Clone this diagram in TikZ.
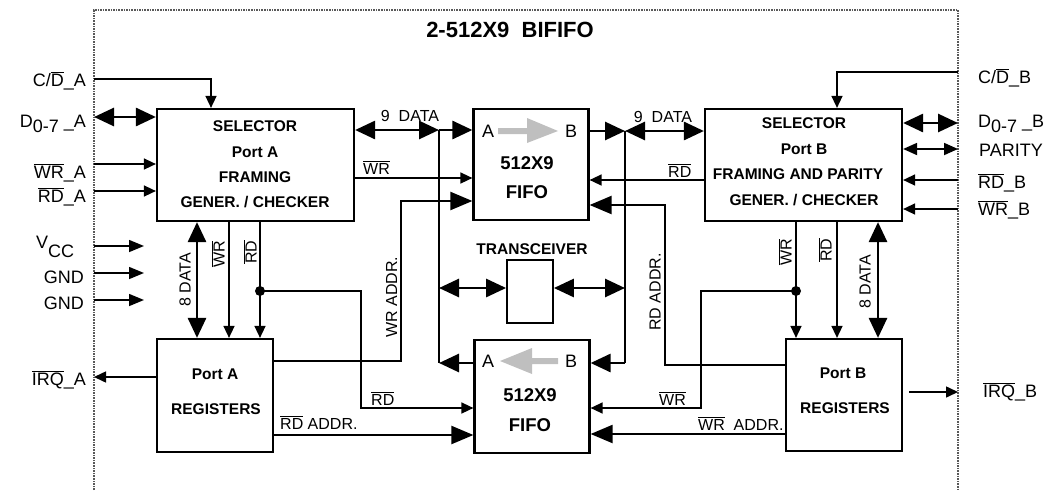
\documentclass[tikz,border=0pt]{standalone}
\usepackage{fontspec}
\setmainfont{Liberation Sans}
\usetikzlibrary{arrows.meta,calc}
\newcommand\ovl[1]{\ensuremath{\overline{\mbox{#1}}}}
\begin{document}
\begin{tikzpicture}[
 x=1pt, y=-1pt,
 box/.style={draw, line width=2.2pt, inner sep=0pt},
 bt/.style={font=\fontsize{15.5}{17}\selectfont\bfseries, inner sep=0pt},
 big/.style={font=\fontsize{18.5}{20}\selectfont\bfseries, inner sep=0pt},
 lbl/.style={font=\fontsize{16}{18}\selectfont, inner sep=0pt},
 ext/.style={font=\fontsize{18}{20}\selectfont, inner sep=0pt},
 sig/.style={line width=1.5pt, -{Triangle[length=12pt,width=11pt]}},
 pw/.style={line width=1.5pt, -{Triangle[length=15pt,width=12pt]}},
 par/.style={line width=1.8pt, {Triangle[length=14pt,width=12pt]}-{Triangle[length=14pt,width=12pt]}},
 bus/.style={line width=2.8pt, -{Triangle[length=20pt,width=18pt]}},
 dbus/.style={line width=2.8pt, {Triangle[length=20pt,width=18pt]}-{Triangle[length=20pt,width=18pt]}},
 buswire/.style={line width=2.4pt},
 addr/.style={line width=2.2pt, -{Triangle[length=22pt,width=18pt]}},
]
\useasboundingbox (0,0) rectangle (1062,490);
% border
\draw[black!65, line width=1.6pt, densely dotted] (94,490) -- (94,10) -- (958,10) -- (958,490);
\node[font=\fontsize{22}{24}\selectfont\bfseries, inner sep=0pt] (title) at (510,30) {2-512X9\ \ BIFIFO};

% boxes
\node[box, minimum width=197pt, minimum height=112pt] (selA) at (255.5,165) {};
\node[box, minimum width=116pt, minimum height=113pt] (regA) at (215,395.5) {};
\node[box, minimum width=115pt, minimum height=111pt] (fifoT) at (531,164.5) {};
\node[box, minimum width=115pt, minimum height=113pt] (fifoB) at (532,396.5) {};
\node[box, line width=1.8pt, minimum width=46pt, minimum height=63pt] (trx) at (530,291.5) {};
\node[box, minimum width=197pt, minimum height=112pt] (selB) at (803.5,165) {};
\node[box, minimum width=116pt, minimum height=112pt] (regB) at (844,395) {};

% box texts
\node[bt] (sa1) at (255,126) {SELECTOR};
\node[bt] (sa2) at (255,152) {Port A};
\node[bt] (sa3) at (255,177) {FRAMING};
\node[bt] (sa4) at (255,202) {GENER. / CHECKER};
\node[bt] (sb1) at (804,123) {SELECTOR};
\node[bt] (sb2) at (804,149) {Port B};
\node[bt] (sb3) at (798,174) {FRAMING AND PARITY};
\node[bt] (sb4) at (804,200) {GENER. / CHECKER};
\node[bt] (ra1) at (215,374) {Port A};
\node[bt] (ra2) at (216,409) {REGISTERS};
\node[bt] (rb1) at (843,373) {Port B};
\node[bt] (rb2) at (845,408) {REGISTERS};
\node[big] (ft1) at (527,163) {512X9};
\node[big] (ft2) at (527,192) {FIFO};
\node[big] (fb1) at (530,395) {512X9};
\node[big] (fb2) at (530,425) {FIFO};
\node[ext] (ftA) at (488,131) {A};
\node[ext] (ftB) at (571,131) {B};
\node[ext] (fbA) at (488,361) {A};
\node[ext] (fbB) at (571,361) {B};
\node[bt] (trxl) at (532,249) {TRANSCEIVER};
% gray direction arrows
\fill[gray!50] (498,128) -- (527,128) -- (527,118) -- (558,131) -- (527,143) -- (527,134) -- (498,134) -- cycle;
\fill[gray!50] (558,358) -- (532,358) -- (532,348) -- (500,361) -- (532,374) -- (532,364) -- (558,364) -- cycle;

% left external labels
\node[ext, anchor=base east] (lCDA) at (86,86) {C/\ovl{D}\_A};
\node[ext, anchor=base east] (lDA) at (86,127) {D\raisebox{-5pt}{0-7} \_A};
\node[ext, anchor=base east] (lWRA) at (86,178) {\ovl{WR}\_A};
\node[ext, anchor=base east] (lRDA) at (86,202) {\ovl{RD}\_A};
\node[ext, anchor=base west] (lVCC) at (36,248) {V\raisebox{-9pt}{CC}};
\node[ext, anchor=base east] (lGND1) at (84,283) {GND};
\node[ext, anchor=base east] (lGND2) at (84,309) {GND};
\node[ext, anchor=base east] (lIRQA) at (86,385) {\ovl{IRQ}\_A};
% right external labels
\node[ext, anchor=base west] (lCDB) at (978,83) {C/\ovl{D}\_B};
\node[ext, anchor=base west] (lDB) at (978,127) {D\raisebox{-5pt}{0-7} \_B};
\node[ext, anchor=base west] (lPAR) at (979,156) {PARITY};
\node[ext, anchor=base west] (lRDB) at (978,188) {\ovl{RD}\_B};
\node[ext, anchor=base west] (lWRB) at (978,215) {\ovl{WR}\_B};
\node[ext, anchor=base west] (lIRQB) at (983,397) {\ovl{IRQ}\_B};

% left external signals
\coordinate (pCDA) at (94,79);
\coordinate (xCDA) at (211,0);
\draw[sig] (pCDA) -| (xCDA |- selA.north);
\coordinate (pDA) at (94,117);
\draw[dbus] (pDA) -- (pDA -| selA.west);
\coordinate (pWRA) at (94,164);
\draw[sig] (pWRA) -- (pWRA -| selA.west);
\coordinate (pRDA) at (94,191);
\draw[sig] (pRDA) -- (pRDA -| selA.west);
\coordinate (vccS) at (94,246); \coordinate (vccE) at (144,246);
\draw[pw] (vccS) -- (vccE);
\coordinate (g1S) at (94,273); \coordinate (g1E) at (144,273);
\draw[pw] (g1S) -- (g1E);
\coordinate (g2S) at (94,300); \coordinate (g2E) at (144,300);
\draw[pw] (g2S) -- (g2E);
\coordinate (pIRQA) at (94,377);
\draw[sig] (pIRQA -| regA.west) -- (pIRQA);

% selector A <-> registers A
\coordinate (x8A) at (197,0);
\draw[dbus] (x8A |- selA.south) -- (x8A |- regA.north);
\coordinate (xWRA) at (229,0);
\draw[sig] (xWRA |- selA.south) -- (xWRA |- regA.north);
\coordinate (xRDA) at (260,0);
\draw[sig] (xRDA |- selA.south) -- (xRDA |- regA.north);
\coordinate (dotA) at (260,291);
\fill (dotA) circle (5pt);
\node[lbl, rotate=90] (l8A) at (185,280) {8 DATA};
\node[lbl, rotate=90] (lWRAv) at (218,254) {\ovl{WR}};
\node[lbl, rotate=90] (lRDAv) at (250,252) {\ovl{RD}};

% RD to lower FIFO
\coordinate (xRDA2) at (361,0);
\coordinate (yRDF) at (0,408);
\draw[sig] (dotA) -| (xRDA2 |- yRDF) -- (yRDF -| fifoB.west);
\node[lbl, anchor=base west] (lRDl) at (371,405) {\ovl{RD}};
% WR ADDR A
\coordinate (yWAA) at (0,361); \coordinate (xWAA) at (401,0); \coordinate (yWAF) at (0,201);
\draw[addr] (yWAA -| regA.east) -| (xWAA |- yWAF) -- (yWAF -| fifoT.west);
\node[lbl, rotate=90] (lWAA) at (391.5,297) {WR ADDR.};
% RD ADDR A
\coordinate (yRAA) at (0,435);
\draw[addr] (yRAA -| regA.east) -- (yRAA -| fifoB.west);
\node[lbl, anchor=base west] (lRAA) at (280,429) {\ovl{RD} ADDR.};
% WR selA -> upper FIFO
\coordinate (yWRT) at (0,178);
\draw[sig] (yWRT -| selA.east) -- (yWRT -| fifoT.west);
\node[lbl, anchor=base west] (lWRt) at (363,174) {\ovl{WR}};

% 9 DATA left bus
\coordinate (jL) at (439,130);
\coordinate (jLt) at (439,288);
\coordinate (jLb) at (439,363);
\draw[dbus] (jL -| selA.east) -- (jL);
\draw[bus] (jL) -- (jL -| fifoT.west);
\draw[buswire] (jL) -- (jLb);
\draw[bus] (jLb -| fifoB.west) -- (jLb);
\draw[dbus] (jLt) -- (jLt -| trx.west);
\node[lbl] (l9L) at (410,116) {9\ \ DATA};

% 9 DATA right bus
\coordinate (jR) at (625,131);
\coordinate (jRt) at (625,288);
\coordinate (jRb) at (625,363);
\draw[bus] (jR -| fifoT.east) -- (jR);
\draw[dbus] (jR) -- (jR -| selB.west);
\draw[buswire] (jR) -- (jRb);
\draw[bus] (jRb) -- (jRb -| fifoB.east);
\draw[dbus] (jRt -| trx.east) -- (jRt);
\node[lbl] (l9R) at (663,117) {9\ \ DATA};

% RD selB -> upper FIFO
\coordinate (yRDT) at (0,180);
\draw[sig] (yRDT -| selB.west) -- (yRDT -| fifoT.east);
\node[lbl, anchor=base west] (lRDt) at (668,177) {\ovl{RD}};
% RD ADDR B
\coordinate (yRAB) at (0,365); \coordinate (xRAB) at (665,0); \coordinate (yRAF) at (0,205);
\draw[addr] (yRAB -| regB.west) -| (xRAB |- yRAF) -- (yRAF -| fifoT.east);
\node[lbl, rotate=90] (lRAB) at (655,292) {RD ADDR.};

% selector B <-> registers B
\coordinate (xWRB) at (796,0);
\draw[sig] (xWRB |- selB.south) -- (xWRB |- regB.north);
\coordinate (xRDB) at (837,0);
\draw[sig] (xRDB |- selB.south) -- (xRDB |- regB.north);
\coordinate (x8B) at (878,0);
\draw[dbus] (x8B |- selB.south) -- (x8B |- regB.north);
\coordinate (dotB) at (796,291);
\fill (dotB) circle (5pt);
\node[lbl, rotate=90] (lWRBv) at (785,252) {\ovl{WR}};
\node[lbl, rotate=90] (lRDBv) at (825,250) {\ovl{RD}};
\node[lbl, rotate=90] (l8B) at (865,282) {8 DATA};

% WR to lower FIFO
\coordinate (xWRB2) at (701,0);
\draw[sig] (dotB) -| (xWRB2 |- yRDF) -- (yRDF -| fifoB.east);
\node[lbl, anchor=base west] (lWRl) at (659,405) {\ovl{WR}};
% WR ADDR B
\coordinate (yWAB) at (0,434);
\draw[addr] (yWAB -| regB.west) -- (yWAB -| fifoB.east);
\node[lbl, anchor=base west] (lWAB) at (698,430) {\ovl{WR}\ \ ADDR.};

% right external signals
\coordinate (pCDB) at (958,72);
\draw[sig] (pCDB) -| (xRDB |- selB.north);
\coordinate (pDB) at (958,123);
\draw[dbus] (pDB -| selB.east) -- (pDB);
\coordinate (pPAR) at (958,149);
\draw[par] (pPAR -| selB.east) -- (pPAR);
\coordinate (pRDB) at (958,180);
\draw[sig] (pRDB) -- (pRDB -| selB.east);
\coordinate (pWRB) at (958,209);
\draw[sig] (pWRB) -- (pWRB -| selB.east);
\coordinate (pIRQB) at (958,392);
\draw[sig, shorten <=6pt] (pIRQB -| regB.east) -- (pIRQB);
\end{tikzpicture}
\end{document}
